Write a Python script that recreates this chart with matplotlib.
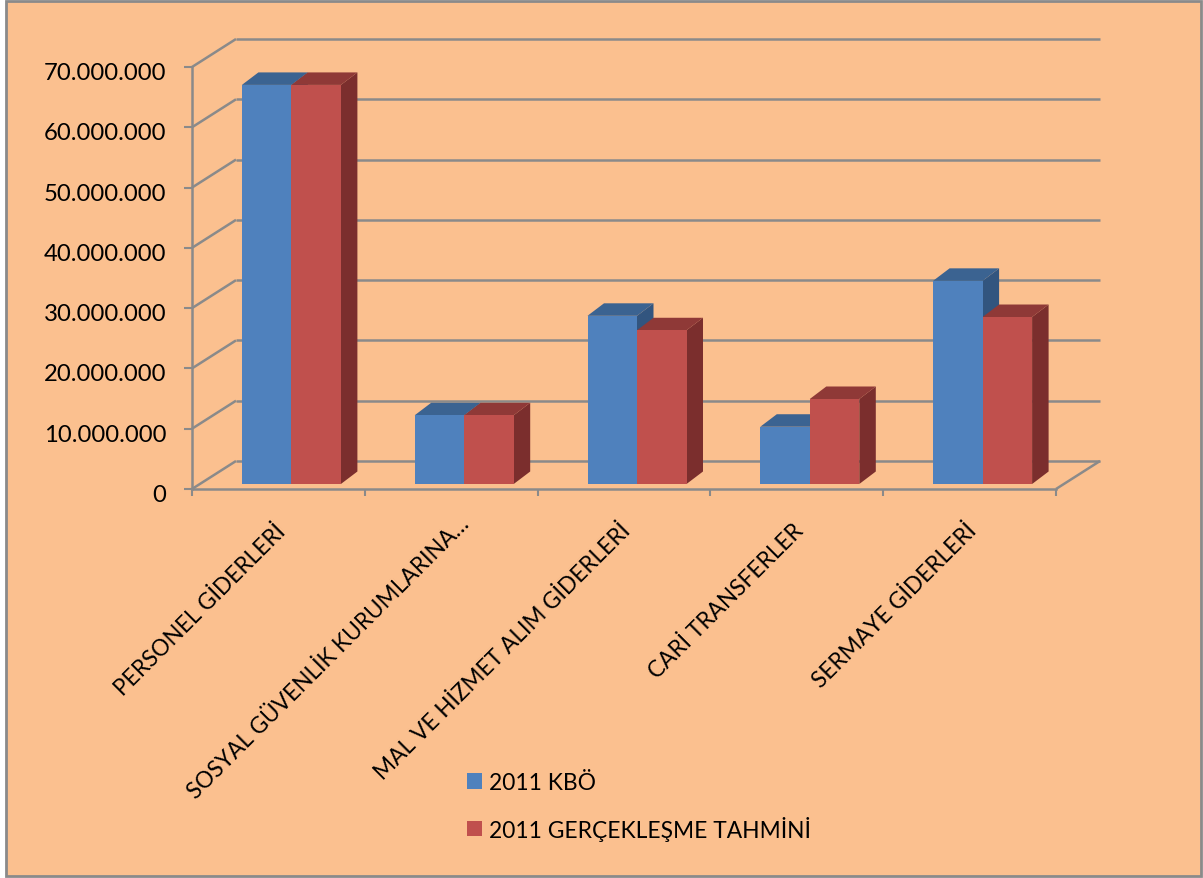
import numpy as np
import matplotlib
matplotlib.use('Agg')
import matplotlib.pyplot as plt
from matplotlib.patches import Polygon, Rectangle
from matplotlib.transforms import ScaledTranslation

plt.rcParams['font.family'] = ['Lato', 'DejaVu Sans']

categories = ['PERSONEL GİDERLERİ', 'SOSYAL GÜVENLİK KURUMLARINA…',
              'MAL VE HİZMET ALIM GİDERLERİ', 'CARİ TRANSFERLER', 'SERMAYE GİDERLERİ']
kbo = [66200000, 11400000, 27900000, 9500000, 33700000]
tahmin = [66200000, 11400000, 25500000, 14100000, 27700000]
y_ticks = [0, 10000000, 20000000, 30000000, 40000000, 50000000, 60000000, 70000000]

W, H = 1203, 879
x0, x1 = 192, 1056     # front plane in pixels
y0, y7 = 490, 68
px_x = (x1 - x0) / 5
px_y = (y0 - y7) / 70000000


def dx(p):
    return p / px_x


def dy(p):
    return p / px_y


GRAY = '#8a8a8a'
BG = '#fbc08f'
BLUE, BLUE_TOP, BLUE_SIDE = '#4f81bd', '#3b6391', '#32557f'
RED, RED_TOP, RED_SIDE = '#c0504d', '#8f3937', '#7b2e2d'

fig = plt.figure(figsize=(W / 100, H / 100), dpi=100, facecolor='white')
fig.add_artist(Rectangle((6 / W, 2 / H), (W - 8) / W, (H - 4) / H, transform=fig.transFigure,
                         facecolor=BG, edgecolor=GRAY, linewidth=2, zorder=-5))
ax = fig.add_axes([x0 / W, 1 - y0 / H, (x1 - x0) / W, (y0 - y7) / H])
ax.patch.set_visible(False)
ax.set_xlim(0, 5)
ax.set_ylim(0, 70000000)

# back wall and side wall
back_x, back_y = dx(44), dy(28)
line_kw = dict(color=GRAY, lw=1.8, clip_on=False, zorder=1, solid_capstyle='butt')
for v in y_ticks:
    ax.plot([0, back_x], [v, v + back_y], **line_kw)
    ax.plot([back_x, 5 + back_x], [v + back_y, v + back_y], **line_kw)
ax.plot([5, 5 + back_x], [0, back_y], **line_kw)

# bars with fake depth
w = dx(49.5)
off_x, floor = dx(13), dy(5)
d_x, d_y = dx(16.5), dy(12.5)
pos = np.arange(len(categories)) + 0.5 + off_x


def side_and_top(x, v, top_c, side_c, z):
    ax.add_patch(Polygon([(x, floor), (x + d_x, floor + d_y), (x + d_x, floor + v + d_y), (x, floor + v)],
                         closed=True, facecolor=side_c, edgecolor='none', clip_on=False, zorder=z))
    ax.add_patch(Polygon([(x - w, floor + v), (x - w + d_x, floor + v + d_y), (x + d_x, floor + v + d_y), (x, floor + v)],
                         closed=True, facecolor=top_c, edgecolor='none', clip_on=False, zorder=z))


for i in range(len(categories)):
    z = 2 + i
    side_and_top(pos[i], kbo[i], BLUE_TOP, BLUE_SIDE, z)
    side_and_top(pos[i] + w, tahmin[i], RED_TOP, RED_SIDE, z + 0.1)

b1 = ax.bar(pos - w / 2, kbo, w, bottom=floor, color=BLUE, label='2011 KBÖ', zorder=8, clip_on=False)
b2 = ax.bar(pos + w / 2, tahmin, w, bottom=floor, color=RED, label='2011 GERÇEKLEŞME TAHMİNİ', zorder=8, clip_on=False)

for s in ['top', 'right']:
    ax.spines[s].set_visible(False)
for s in ['left', 'bottom']:
    ax.spines[s].set_color(GRAY)
    ax.spines[s].set_linewidth(1.8)

ax.set_yticks(y_ticks)
ax.set_yticklabels([f'{v:,}'.replace(',', '.') for v in y_ticks])
ax.tick_params(axis='y', length=5.5, width=1.5, color=GRAY, labelsize=17.2, pad=13, labelcolor='black')
for lbl in ax.get_yticklabels():
    lbl.set_transform(lbl.get_transform() + ScaledTranslation(0, -0.035, fig.dpi_scale_trans))

ax.set_xticks(np.arange(6))
ax.set_xticklabels([])
ax.tick_params(axis='x', which='major', length=5, width=1.5, color=GRAY)
ax.set_xticks(np.arange(5) + 0.5 + dx(8), minor=True)
ax.set_xticklabels(categories, minor=True, rotation=45, ha='right', va='top',
                   rotation_mode='anchor', fontsize=16.3)
ax.tick_params(axis='x', which='minor', length=0, pad=17)
# the shortened label sits further along than the others
for i, lbl in enumerate(ax.get_xticklabels(minor=True)):
    shift = (-0.01, 0) if i == 1 else (-0.12, -0.07)
    lbl.set_transform(lbl.get_transform() + ScaledTranslation(shift[0], shift[1], fig.dpi_scale_trans))

fig.legend(handles=[b1, b2], loc='upper left', bbox_to_anchor=(460 / W, 1 - 766 / H), frameon=False,
           fontsize=16.4, handlelength=0.68, handleheight=0.68, handletextpad=0.3, labelspacing=1.0,
           borderpad=0.3, borderaxespad=0)

fig.savefig('out.png', dpi=100, facecolor=fig.get_facecolor())
